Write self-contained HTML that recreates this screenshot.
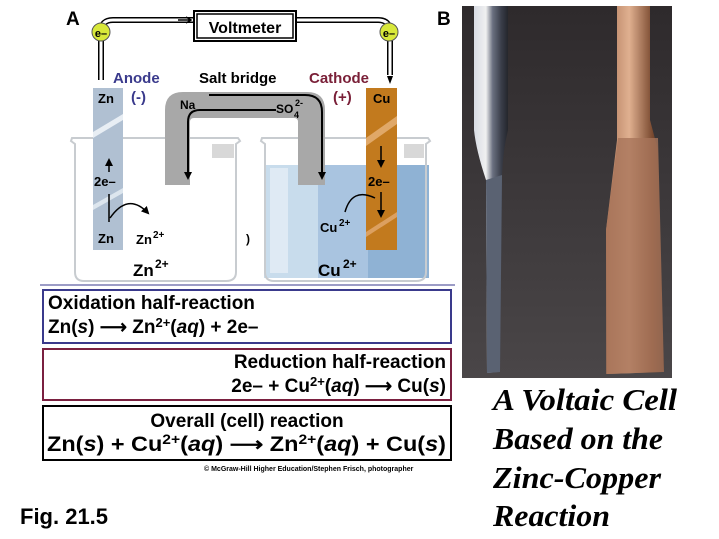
<!DOCTYPE html>
<html><head><meta charset="utf-8"><style>
html,body{margin:0;padding:0;background:#fff;}
svg{display:block;}
text{font-family:"Liberation Sans",Arial,sans-serif;font-weight:bold;}
.s{font-family:"Liberation Serif",serif;font-style:italic;font-weight:bold;font-size:31px;}
</style></head><body>
<svg width="719" height="539" viewBox="0 0 719 539" xmlns="http://www.w3.org/2000/svg">
<defs>
<marker id="ar" markerWidth="8" markerHeight="8" refX="6" refY="4" orient="auto" markerUnits="userSpaceOnUse"><path d="M0,0 L8,4 L0,8 Z" fill="#000"/></marker>
<linearGradient id="ph" x1="0" y1="0" x2="0" y2="1"><stop offset="0" stop-color="#2e2a2c"/><stop offset="1" stop-color="#4a4648"/></linearGradient>
<linearGradient id="zn" x1="0" y1="0" x2="1" y2="0"><stop offset="0" stop-color="#d8dce4"/><stop offset=".35" stop-color="#f0f0f0"/><stop offset=".55" stop-color="#6a7080"/><stop offset=".8" stop-color="#3a3e4a"/><stop offset="1" stop-color="#24262c"/></linearGradient>
<linearGradient id="cu" x1="0" y1="0" x2="1" y2="0"><stop offset="0" stop-color="#b07a5c"/><stop offset=".4" stop-color="#e0b090"/><stop offset=".8" stop-color="#7a4a30"/><stop offset="1" stop-color="#3a2a24"/></linearGradient>
</defs>

<text x="66" y="25" font-size="19">A</text>
<text x="437" y="25" font-size="19">B</text>

<rect x="264" y="165" width="165" height="113" fill="#c8dcec"/>
<rect x="318" y="165" width="111" height="113" fill="#a9c4e0"/>
<rect x="368" y="165" width="61" height="113" fill="#8fb2d4"/>
<rect x="270" y="168" width="18" height="105" fill="#dfeaf4"/>

<path d="M72,138 L238,138 L240,141 L236,144 L236,272 Q236,281 226,281 L84,281 Q75,281 75,272 L75,144 L71,141 Z" fill="none" stroke="#c8ccd0" stroke-width="2"/>
<path d="M262,138 L428,138 L430,141 L426,144 L426,272 Q426,281 416,281 L274,281 Q265,281 265,272 L265,144 L261,141 Z" fill="none" stroke="#c8ccd0" stroke-width="2"/>
<rect x="212" y="144" width="22" height="14" fill="#d8d8d8"/>
<rect x="404" y="144" width="20" height="14" fill="#d8d8d8"/>

<rect x="93" y="88" width="30" height="162" fill="#b0c0d2"/>
<path d="M93,132 L123,114 L123,120 L93,138 Z" fill="#e8eef4"/>
<path d="M93,205 L123,188 L123,193 L93,210 Z" fill="#dde6ee"/>
<rect x="366" y="88" width="31" height="162" fill="#c27a1e"/>
<path d="M366,138 L397,116 L397,124 L366,146 Z" fill="#e0a868"/>
<path d="M366,232 L397,212 L397,217 L366,237 Z" fill="#dca060"/>

<path d="M165,185 L165,110 Q165,92 183,92 L307,92 Q325,92 325,110 L325,185 L298,185 L298,122 Q298,118 294,118 L194,118 Q190,118 190,122 L190,185 Z" fill="#a8a8a8"/>
<path d="M209,95 L305,95 Q322,95 322,112 L322,178" stroke="#000" stroke-width="2" fill="none" marker-end="url(#ar)"/>
<path d="M276,110 L200,110 Q188,110 188,122 L188,178" stroke="#000" stroke-width="2" fill="none" marker-end="url(#ar)"/>

<path d="M101,80 L101,32 Q101,20 113,20 L193,20" stroke="#000" stroke-width="6" fill="none"/>
<path d="M101,80 L101,32 Q101,20 113,20 L193,20" stroke="#fff" stroke-width="3" fill="none"/>
<path d="M297,20 L378,20 Q390,20 390,32 L390,75" stroke="#000" stroke-width="6" fill="none"/>
<path d="M297,20 L378,20 Q390,20 390,32 L390,75" stroke="#fff" stroke-width="3" fill="none"/>
<path d="M178,20 L190,20 M186,17 L191,20 L186,23" stroke="#000" stroke-width="1.5" fill="none"/>
<path d="M387,76 L393,76 L390,84 Z" fill="#000"/>
<rect x="194" y="11" width="102" height="30" fill="#fff" stroke="#000" stroke-width="2"/>
<rect x="197" y="14" width="96" height="24" fill="none" stroke="#000" stroke-width="1.5"/>
<text x="245" y="33" font-size="16" text-anchor="middle">Voltmeter</text>
<circle cx="101" cy="32" r="9" fill="#d8e83a" stroke="#555" stroke-width="1"/>
<text x="101" y="37" font-size="11" text-anchor="middle">e–</text>
<circle cx="389" cy="32" r="9" fill="#d8e83a" stroke="#555" stroke-width="1"/>
<text x="389" y="37" font-size="11" text-anchor="middle">e–</text>

<text x="113" y="83" font-size="15" fill="#3a3a8c">Anode</text>
<text x="131" y="102" font-size="15" fill="#3a3a8c">(-)</text>
<text x="199" y="83" font-size="15">Salt bridge</text>
<text x="309" y="83" font-size="15" fill="#7a2038">Cathode</text>
<text x="333" y="102" font-size="15" fill="#7a2038">(+)</text>
<text x="98" y="103" font-size="13">Zn</text>
<text x="373" y="103" font-size="13">Cu</text>
<text x="180" y="109" font-size="12">Na</text>
<text x="276" y="113" font-size="12">SO</text>
<text x="294" y="118" font-size="9">4</text>
<text x="295" y="106" font-size="9">2-</text>

<path d="M109,222 L109,194" stroke="#000" stroke-width="1.5"/>
<path d="M109,172 L109,160" stroke="#000" stroke-width="1.5" marker-end="url(#ar)"/>
<text x="94" y="186" font-size="13">2e–</text>
<text x="98" y="243" font-size="13">Zn</text>
<path d="M110,218 Q128,192 148,213" stroke="#000" stroke-width="1.5" fill="none" marker-end="url(#ar)"/>
<text x="136" y="244" font-size="13">Zn</text><text x="153" y="238" font-size="10">2+</text>
<text x="133" y="276" font-size="17">Zn</text><text x="155" y="268" font-size="12">2+</text>
<text x="246" y="243" font-size="12" font-weight="normal">)</text>

<path d="M381,146 L381,166" stroke="#000" stroke-width="1.5" marker-end="url(#ar)"/>
<text x="368" y="186" font-size="13">2e–</text>
<path d="M381,192 L381,216" stroke="#000" stroke-width="1.5" marker-end="url(#ar)"/>
<path d="M345,212 Q352,187 375,198" stroke="#000" stroke-width="1.5" fill="none"/>
<text x="320" y="232" font-size="13">Cu</text><text x="339" y="226" font-size="10">2+</text>
<text x="318" y="276" font-size="17">Cu</text><text x="343" y="268" font-size="12">2+</text>
<line x1="40" y1="285" x2="455" y2="285" stroke="#3a3a8c" stroke-width="1"/>

<rect x="43" y="290" width="408" height="53" fill="#fff" stroke="#3a3a8c" stroke-width="2"/>
<text x="48" y="309" font-size="19">Oxidation half-reaction</text>
<text x="48" y="333" font-size="19">Zn(<tspan font-style="italic">s</tspan>) ⟶ Zn<tspan font-size="13" dy="-6">2+</tspan><tspan dy="6">(</tspan><tspan font-style="italic">aq</tspan>)  +  2e–</text>
<rect x="43" y="349" width="408" height="51" fill="#fff" stroke="#7a2040" stroke-width="2"/>
<text x="446" y="368" font-size="19" text-anchor="end">Reduction half-reaction</text>
<text x="446" y="392" font-size="19" text-anchor="end">2e– + Cu<tspan font-size="13" dy="-6">2+</tspan><tspan dy="6">(</tspan><tspan font-style="italic">aq</tspan>) ⟶ Cu(<tspan font-style="italic">s</tspan>)</text>
<rect x="43" y="406" width="408" height="54" fill="#fff" stroke="#000" stroke-width="2"/>
<text x="247" y="427" font-size="19" text-anchor="middle">Overall (cell) reaction</text>
<text x="47" y="451" font-size="21" textLength="399" lengthAdjust="spacingAndGlyphs">Zn(<tspan font-style="italic">s</tspan>) + Cu<tspan font-size="14" dy="-7">2+</tspan><tspan dy="7">(</tspan><tspan font-style="italic">aq</tspan>) ⟶ Zn<tspan font-size="14" dy="-7">2+</tspan><tspan dy="7">(</tspan><tspan font-style="italic">aq</tspan>) + Cu(<tspan font-style="italic">s</tspan>)</text>
<text x="204" y="471" font-size="7" font-weight="normal">© McGraw-Hill Higher Education/Stephen Frisch, photographer</text>
<text x="20" y="524" font-size="22">Fig. 21.5</text>

<rect x="462" y="6" width="210" height="372" fill="url(#ph)"/>
<path d="M474,6 L508,6 L508,130 Q503,150 502,175 L500,372 L487,373 L486,180 Q476,150 474,130 Z" fill="url(#zn)"/>
<path d="M486,180 L502,175 L500,372 L487,373 Z" fill="#5a6272"/>
<path d="M617,6 L650,6 L650,120 L658,150 L664,372 L607,374 L606,230 L617,140 Z" fill="url(#cu)"/>
<path d="M618,138 L658,138 L664,372 L606,374 L606,230 Z" fill="#a8745a" opacity=".8"/>

<text class="s" x="493" y="410" textLength="184" lengthAdjust="spacingAndGlyphs">A Voltaic Cell</text>
<text class="s" x="493" y="449" textLength="170" lengthAdjust="spacingAndGlyphs">Based on the</text>
<text class="s" x="493" y="488" textLength="168" lengthAdjust="spacingAndGlyphs">Zinc-Copper</text>
<text class="s" x="493" y="526" textLength="117" lengthAdjust="spacingAndGlyphs">Reaction</text>
</svg>
</body></html>
